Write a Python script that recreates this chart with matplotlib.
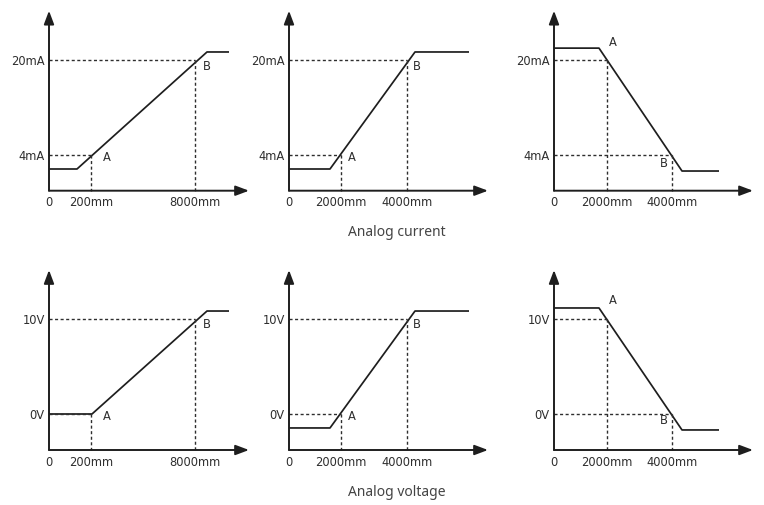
import matplotlib
matplotlib.use("Agg")
import matplotlib.pyplot as plt

W, H = 764, 505
fig = plt.figure(figsize=(W / 100, H / 100), dpi=100)

# ---- data (schematic units: x = position along axis, y = signal value) ----
# top row: analog current (mA)
cur_line_x = [[0, 28, 158, 180], [0, 41, 126, 180], [0, 45, 128, 165]]
cur_line_y = [[1.65, 1.65, 21.35, 21.35], [1.65, 1.65, 21.35, 21.35], [22.0, 22.0, 1.31, 1.31]]
cur_A = [(42, 4), (52, 4), (53, 20)]
cur_B = [(146, 20), (118, 20), (118, 4)]
cur_yticks = [4, 20]
cur_ylabels = ["4mA", "20mA"]

# bottom row: analog voltage (V)
vol_line_x = [[0, 43, 158, 180], [0, 41, 126, 180], [0, 45, 128, 165]]
vol_line_y = [[0, 0, 10.84, 10.84], [-1.47, -1.47, 10.84, 10.84], [11.16, 11.16, -1.68, -1.68]]
vol_A = [(42, 0), (52, 0), (53, 10)]
vol_B = [(146, 10), (118, 10), (118, 0)]
vol_yticks = [0, 10]
vol_ylabels = ["0V", "10V"]

x_labels = [["0", "200mm", "8000mm"], ["0", "2000mm", "4000mm"], ["0", "2000mm", "4000mm"]]
row_titles = ["Analog current", "Analog voltage"]

# ---- layout ----
origins_x = [49, 289, 554]
origins_y = [190.7, 450]
ax_len_x = [200, 199, 199]
ax_len_y = 180
# pixel calibration of value axes: px_above_axis = off + scale * value
cal = [(11.9, 5.94), (36.0, 9.5)]
A_off = [[(16, -2), (11, -2), (6, 17)], [(16, -3), (11, -3), (6, 18)]]
B_off = [[(12, -7), (10, -6), (-8, -8)], [(12, -6), (10, -6), (-8, -7)]]
title_y = [232, 493]

LC = "#1e1e1e"
TC = "#2e2e2e"

rows = [
    (cur_line_x, cur_line_y, cur_A, cur_B, cur_yticks, cur_ylabels),
    (vol_line_x, vol_line_y, vol_A, vol_B, vol_yticks, vol_ylabels),
]

ARROW = "-|>,head_length=0.8,head_width=0.3"

for r, (lx, ly, pA, pB, yt, yl) in enumerate(rows):
    off, sc = cal[r]
    oy = origins_y[r]
    ymin = -off / sc
    ymax = (ax_len_y - off) / sc
    for c in range(3):
        ox = origins_x[c]
        ax = fig.add_axes([ox / W, (H - oy) / H, 200 / W, ax_len_y / H])
        ax.set_xlim(0, 200)
        ax.set_ylim(ymin, ymax)
        for s in ax.spines.values():
            s.set_visible(False)
        ax.patch.set_visible(False)
        # axes arrows
        ax.annotate("", xy=(ax_len_x[c], ymin), xytext=(0, ymin),
                    arrowprops=dict(arrowstyle=ARROW, lw=1.4, color=LC,
                                    shrinkA=0, shrinkB=0),
                    annotation_clip=False)
        ax.annotate("", xy=(0, ymax), xytext=(0, ymin),
                    arrowprops=dict(arrowstyle=ARROW, lw=1.4, color=LC,
                                    shrinkA=0, shrinkB=0),
                    annotation_clip=False)
        # characteristic line
        ax.plot(lx[c], ly[c], color=LC, lw=1.25, clip_on=False, solid_capstyle="butt")
        # dotted guides
        for (px, py) in (pA[c], pB[c]):
            ax.plot([0, px], [py, py], color=TC, lw=1.0, ls=(0, (2.2, 1.8)), clip_on=False)
            ax.plot([px, px], [py, ymin], color=TC, lw=1.0, ls=(0, (2.2, 1.8)), clip_on=False)
        # point labels
        ax.annotate("A", xy=pA[c], xytext=A_off[r][c], textcoords="offset pixels",
                    ha="center", va="center", fontsize=8.3, color=TC, family="DejaVu Sans")
        ax.annotate("B", xy=pB[c], xytext=B_off[r][c], textcoords="offset pixels",
                    ha="center", va="center", fontsize=8.3, color=TC, family="DejaVu Sans")
        # ticks
        ax.set_xticks([0, pA[c][0], pB[c][0]])
        ax.set_xticklabels(x_labels[c])
        ax.set_yticks(yt)
        ax.set_yticklabels(yl)
        ax.tick_params(axis="x", length=0, pad=4, labelsize=8.3, labelcolor=TC)
        ax.tick_params(axis="y", length=0, pad=3, labelsize=8.3, labelcolor=TC)
        for t in ax.get_xticklabels() + ax.get_yticklabels():
            t.set_family("DejaVu Sans")
    fig.text(397 / W, 1 - title_y[r] / H, row_titles[r], ha="center", va="center",
             fontsize=10, color="#444444", family="Noto Sans")

fig.savefig("out.png", dpi=100)
